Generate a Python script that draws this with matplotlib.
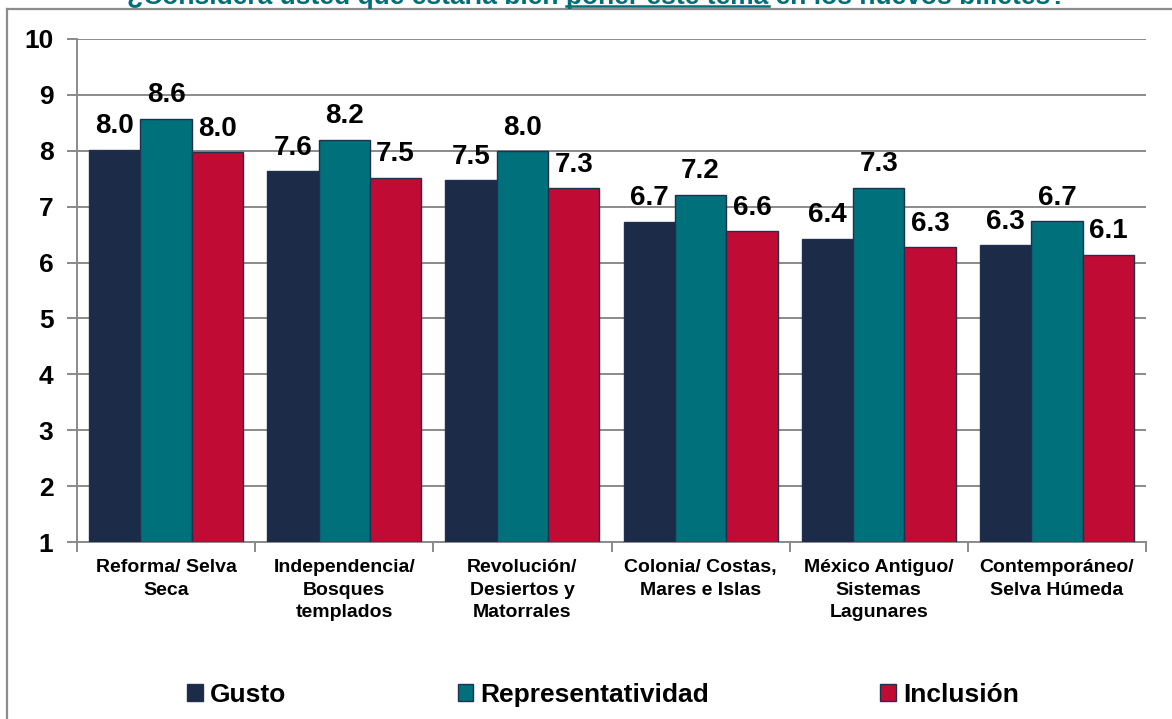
import numpy as np
import matplotlib
matplotlib.use("Agg")
import matplotlib.pyplot as plt
from matplotlib.lines import Line2D
from matplotlib.patches import Patch

categories = ["Reforma/ Selva\nSeca", "Independencia/\nBosques\ntemplados",
              "Revolución/\nDesiertos y\nMatorrales", "Colonia/ Costas,\nMares e Islas",
              "México Antiguo/\nSistemas\nLagunares", "Contemporáneo/\nSelva Húmeda"]
gusto = [8.02, 7.63, 7.47, 6.73, 6.42, 6.31]
representatividad = [8.57, 8.19, 7.99, 7.21, 7.34, 6.74]
inclusion = [7.97, 7.51, 7.33, 6.56, 6.27, 6.14]
series_names = ["Gusto", "Representatividad", "Inclusión"]
colors = ["#1C2B47", "#00707A", "#C00C34"]
title_pre = "¿Considera usted que estaría bien "
title_ul = "poner este tema"
title_post = " en los nuevos billetes?"

plt.rcParams['font.family'] = ['Liberation Sans', 'DejaVu Sans']
plt.rcParams['font.weight'] = 'bold'

W, H = 1172, 719
fig = plt.figure(figsize=(W / 100, H / 100), dpi=100)
ax = fig.add_axes([77 / W, 1 - 542 / H, 1069 / W, 503 / H])

x = np.arange(len(categories))
bw = 0.288
grid_c = "#8A8A8A"

for i, (vals, name, c) in enumerate(zip([gusto, representatividad, inclusion], series_names, colors)):
    pos = x + (i - 1) * bw
    ax.bar(pos, [v - 1 for v in vals], bw, bottom=1, color=c, edgecolor="#1F3050",
           linewidth=1.0, label=name, zorder=3)
    for px, v in zip(pos, vals):
        ax.annotate(f"{v:.1f}", (px, v), xytext=(0, 12), textcoords="offset points",
                    ha="center", va="baseline", fontsize=20, fontweight="bold", zorder=4)

ax.set_xlim(-0.5, len(categories) - 0.5)
ax.set_ylim(1, 10)
ax.set_yticks(range(1, 11))
ax.yaxis.grid(True, color=grid_c, linewidth=1.4, zorder=0)
ax.set_axisbelow(True)
for s in ["top", "right"]:
    ax.spines[s].set_visible(False)
for s in ["left", "bottom"]:
    ax.spines[s].set_color(grid_c)
    ax.spines[s].set_linewidth(1.4)

ax.tick_params(axis="y", length=7, width=1.4, color=grid_c, pad=10, labelsize=19)
ax.set_xticks(x)
ax.set_xticklabels(categories, fontsize=14, fontweight="bold", linespacing=1.45)
ax.set_xticks(np.arange(-0.5, len(categories)), minor=True)
ax.tick_params(axis="x", which="major", length=0, pad=12)
ax.tick_params(axis="x", which="minor", length=7, width=1.4, color=grid_c)
for lab in ax.get_yticklabels():
    lab.set_fontweight("bold")

handles = [Patch(facecolor=c, edgecolor="#1F3050", linewidth=1.0) for c in colors]
fig.legend(handles, series_names, loc="center", bbox_to_anchor=(603 / W, 1 - 695 / H),
           ncol=3, frameon=False, handlelength=0.6, handleheight=0.6,
           handletextpad=0.25, columnspacing=6.5, prop={"weight": "bold", "size": 19})

# outer frame (top and left edges visible)
fig.add_artist(Line2D([7 / W, 7 / W], [0, 1 - 9 / H], color="#8C8C8C", linewidth=1.6,
                      transform=fig.transFigure))
fig.add_artist(Line2D([7 / W, 1], [1 - 9 / H, 1 - 9 / H], color="#8C8C8C", linewidth=1.6,
                      transform=fig.transFigure))

# title, mostly cut off at the top, with underlined part
title_color = "#007078"
full_title = title_pre + title_ul + title_post
cx, base_y = 597 / W, 1 - 4 / H
t = fig.text(cx, base_y, full_title, ha="center", va="baseline", fontsize=19,
             fontweight="bold", color=title_color)
renderer = fig.canvas.get_renderer()
full_w = t.get_window_extent(renderer).width
tmp = fig.text(0, 0, title_pre + title_ul, fontsize=19, fontweight="bold")
w_upto = tmp.get_window_extent(renderer).width
tmp.remove()
tmp = fig.text(0, 0, title_ul, fontsize=19, fontweight="bold")
w_ul = tmp.get_window_extent(renderer).width
tmp.remove()
left_px = cx * W - full_w / 2
x1 = left_px + w_upto
x0 = x1 - w_ul
fig.add_artist(Line2D([x0 / W, x1 / W], [1 - 5.5 / H, 1 - 5.5 / H], color=title_color,
                      linewidth=1.8, transform=fig.transFigure))

fig.savefig("out.png", dpi=100)
